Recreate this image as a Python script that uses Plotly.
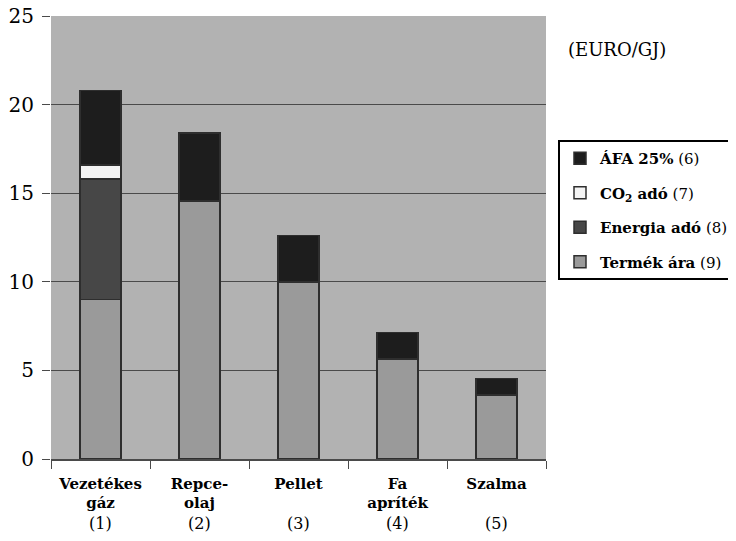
import plotly.graph_objects as go

categories = ["<b>Vezetékes<br>gáz</b>", "<b>Repce-<br>olaj</b>", "<b>Pellet</b>",
              "<b>Fa<br>apríték</b>", "<b>Szalma</b>"]
numbers = ["(1)", "(2)", "(3)", "(4)", "(5)"]
termek_ara = [9.0, 14.55, 10.0, 5.65, 3.6]
energia_ado = [6.8, 0, 0, 0, 0]
co2_ado = [0.8, 0, 0, 0, 0]
afa = [4.2, 3.85, 2.6, 1.5, 0.95]

series = [
    ("<b>Termék ára</b> (9)", termek_ara, "#9a9a9a"),
    ("<b>Energia adó</b> (8)", energia_ado, "#474747"),
    ("<b>CO<sub>2</sub> adó</b> (7)", co2_ado, "#f4f4f4"),
    ("<b>ÁFA 25%</b> (6)", afa, "#1d1d1d"),
]

FONT = "DejaVu Serif"
W, H = 720, 525  # page body has 8px margin; keep the figure inside the window
fig = go.Figure()
for i, (name, vals, col) in enumerate(series):
    fig.add_trace(go.Bar(x=categories, y=vals, name=name, legendgroup=f"g{i}",
                         legendrank=len(series) - i,
                         marker=dict(color=col, line=dict(color="#2e2e2e", width=1.5))))

annotations = [dict(text="(EURO/GJ)", xref="paper", yref="paper", x=1.04, y=0.925,
                    xanchor="left", yanchor="middle", showarrow=False,
                    font=dict(family=FONT, size=18, color="black"))]
for c, n in zip(categories, numbers):
    annotations.append(dict(text=n, x=c, xref="x", yref="paper", y=-0.146,
                            xanchor="center", yanchor="middle", showarrow=False,
                            font=dict(family=FONT, size=16, color="black")))

fig.update_layout(
    width=W, height=H,
    margin=dict(l=43, r=182, t=8, b=74),
    barmode="stack", bargap=0.59,
    paper_bgcolor="white", plot_bgcolor="#b2b2b2",
    font=dict(family=FONT, color="black"),
    showlegend=True,
    legend=dict(traceorder="grouped", xref="container", yref="container",
                x=550 / W, y=1 - 132 / H, xanchor="left", yanchor="top",
                bgcolor="white", bordercolor="black", borderwidth=2,
                font=dict(family=FONT, size=15, color="black"), tracegroupgap=12),
    annotations=annotations,
)
fig.update_yaxes(range=[0, 25], dtick=5, showgrid=True, gridcolor="#4a4a4a", gridwidth=1,
                 ticks="outside", ticklen=8, tickcolor="#4a4a4a", zeroline=False,
                 tickfont=dict(family=FONT, size=20, color="black"), showline=False,
                 automargin=False, ticklabeloverflow="allow", ticklabelstandoff=4)
fig.update_xaxes(showline=True, linecolor="#4a4a4a", linewidth=1.5, ticks="outside",
                 tickson="boundaries", ticklen=8, tickcolor="#4a4a4a",
                 tickfont=dict(family=FONT, size=15, color="black"), automargin=False,
                 ticklabeloverflow="allow", ticklabelstandoff=10)

fig.write_html("out.html")
